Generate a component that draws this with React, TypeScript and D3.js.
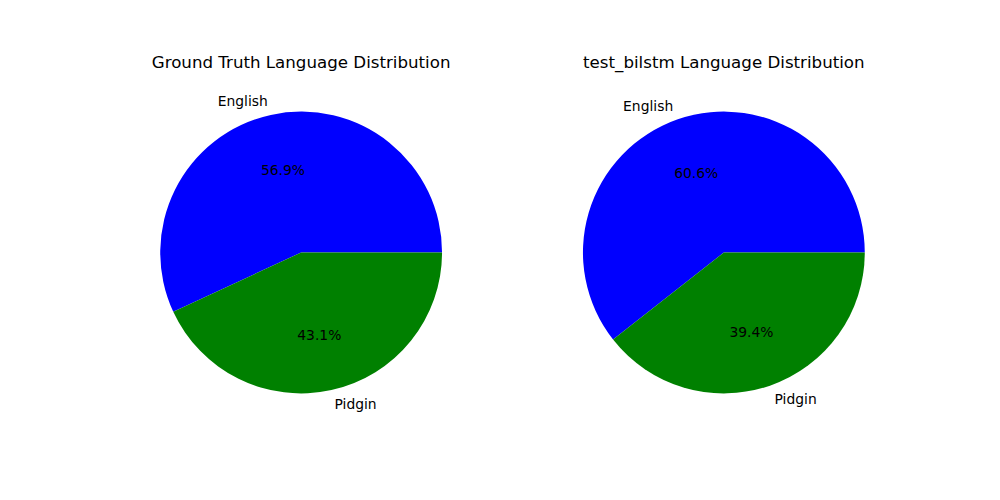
import React from 'react';
import { pie, arc, scaleLinear } from 'd3';

const languages = ['English', 'Pidgin'];
const colors = ['#0000ff', '#008000'];
const groundTruth = [56.9, 43.1];
const bilstm = [60.6, 39.4];
const titles = ['Ground Truth Language Distribution', 'test_bilstm Language Distribution'];

const W = 1000;
const H = 500;
const FONT = 'DejaVu Sans, sans-serif';

// figure layout like matplotlib 1x2 subplots with equal aspect
const axW = (0.9 - 0.125) * W / 2.2;
const axLefts = [0.125 * W, 0.125 * W + axW * 1.2];
const cy = H - (0.11 + 0.77 / 2) * H;

function Pie({ values, title, left }) {
  const scale = scaleLinear().domain([-1.25, 1.25]).range([0, axW]);
  const cx = left + axW / 2;
  const r = scale(1) - scale(0);
  const slices = pie<number>().sort(null).value(d => d)
    .startAngle(Math.PI / 2).endAngle(Math.PI / 2 - 2 * Math.PI)(values);
  const path = arc<any>().innerRadius(0).outerRadius(r);
  const top = cy - axW / 2;

  return (
    <g>
      <text x={cx} y={top - 8.3} textAnchor="middle" fontSize={16.67} fontFamily={FONT}>{title}</text>
      <g transform={`translate(${cx},${cy})`}>
        {slices.map((s, i) => (
          <path key={i} d={path(s) || ''} fill={colors[i]} />
        ))}
        {slices.map((s, i) => {
          const a = (s.startAngle + s.endAngle) / 2;
          const lx = Math.sin(a) * r * 1.1;
          const ly = -Math.cos(a) * r * 1.1;
          const px = Math.sin(a) * r * 0.6;
          const py = -Math.cos(a) * r * 0.6;
          return (
            <g key={i}>
              <text x={lx} y={ly} textAnchor={lx < 0 ? 'end' : 'start'} dominantBaseline="central"
                fontSize={13.89} fontFamily={FONT}>{languages[i]}</text>
              <text x={px} y={py} textAnchor="middle" dominantBaseline="central"
                fontSize={13.89} fontFamily={FONT}>{values[i].toFixed(1)}%</text>
            </g>
          );
        })}
      </g>
    </g>
  );
}

export default function App() {
  return (
    <div style={{ position: 'absolute', left: 0, top: 0 }}>
      <svg width={W} height={H} style={{ display: 'block', background: '#fff' }}>
        <Pie values={groundTruth} title={titles[0]} left={axLefts[0]} />
        <Pie values={bilstm} title={titles[1]} left={axLefts[1]} />
      </svg>
    </div>
  );
}
